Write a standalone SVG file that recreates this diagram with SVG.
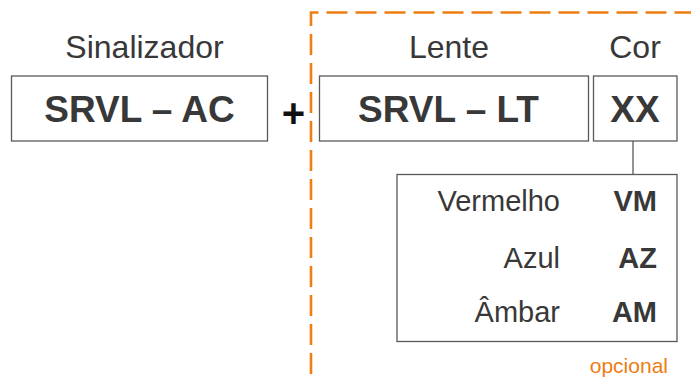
<svg xmlns="http://www.w3.org/2000/svg" width="691" height="382" viewBox="0 0 691 382">
<style>
.box{fill:#fff;stroke:#595959;stroke-width:1.3}
.t{font-family:"Liberation Sans",Arial,sans-serif;fill:#383838}
.lbl{font-size:32px;text-anchor:middle}
.code{font-size:37px;font-weight:bold;text-anchor:middle}
.item{font-size:29px;text-anchor:end}
.itemb{font-size:29px;font-weight:bold;text-anchor:end}
</style>
<rect width="691" height="382" fill="#fff"/>
<g id="optional-frame">
<path d="M311 376 V12.5 H700" fill="none" stroke="#EE7D12" stroke-width="2.6" stroke-dasharray="21 8" stroke-dashoffset="27"/>
<text class="t" x="668" y="373" font-size="21" text-anchor="end" style="fill:#EE7D12">opcional</text>
</g>
<g id="connectors">
<line x1="633" y1="141" x2="633" y2="174.5" stroke="#595959" stroke-width="1.3"/>
</g>
<g id="sinalizador">
<text class="t lbl" x="144.5" y="58">Sinalizador</text>
<rect class="box" x="11.5" y="76" width="256" height="65"/>
<text class="t code" x="139.5" y="122">SRVL – AC</text>
</g>
<g id="plus">
<text class="t" x="293.5" y="127" font-size="40" font-weight="bold" text-anchor="middle" style="fill:#111">+</text>
</g>
<g id="lente">
<text class="t lbl" x="449" y="58">Lente</text>
<rect class="box" x="319.5" y="76" width="269" height="65"/>
<text class="t code" x="448.5" y="122">SRVL – LT</text>
</g>
<g id="cor">
<text class="t lbl" x="635" y="58">Cor</text>
<rect class="box" x="593.5" y="76" width="83.5" height="65"/>
<text class="t code" x="635" y="122">XX</text>
</g>
<g id="cores">
<rect class="box" x="397" y="174.5" width="280" height="167"/>
<text class="t item" x="560" y="211">Vermelho</text>
<text class="t itemb" x="657" y="211">VM</text>
<text class="t item" x="560" y="268">Azul</text>
<text class="t itemb" x="657" y="268">AZ</text>
<text class="t item" x="560" y="322">Âmbar</text>
<text class="t itemb" x="657" y="322">AM</text>
</g>
</svg>
